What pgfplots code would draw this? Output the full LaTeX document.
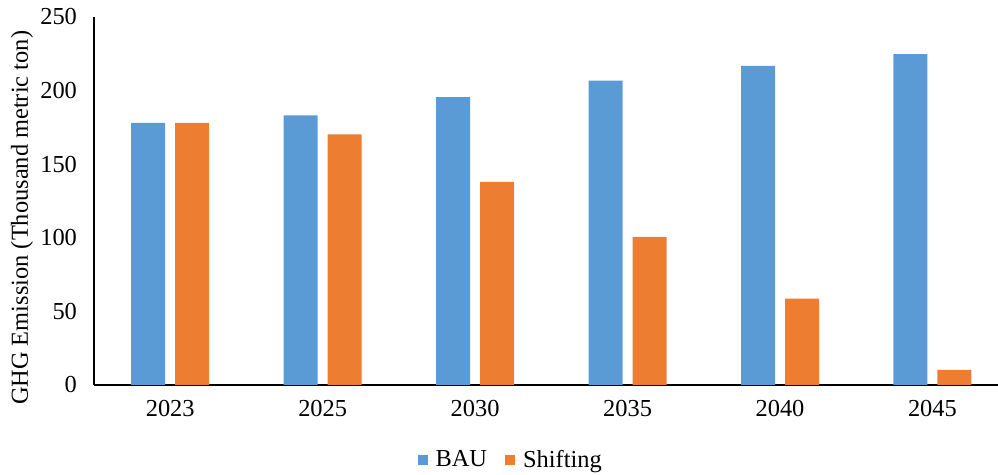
\documentclass[border=0pt]{standalone}
\usepackage{pgfplots}
\pgfplotsset{compat=1.18}
\usepackage{fontspec}
\setmainfont{Liberation Serif}

\definecolor{baublue}{HTML}{5B9BD5}
\definecolor{shiftorange}{HTML}{ED7D31}

\pgfplotstableread{
idx  year  bau    shifting
0    2023  178.0  178.0
1    2025  183.2  170.2
2    2030  195.6  138.0
3    2035  206.7  100.7
4    2040  216.8   58.6
5    2045  224.7   10.2
}\emissions

\begin{document}
\begin{tikzpicture}
\useasboundingbox (0,0) rectangle (499pt,237.5pt);
\begin{axis}[
  at={(47pt,45pt)}, anchor=south west,
  width=452pt, height=184pt, scale only axis,
  font=\fontsize{12.2}{14}\selectfont,
  /pgf/number format/assume math mode=true,
  ybar, bar width=17pt,
  xmin=-0.5, xmax=5.43,
  ymin=0, ymax=250,
  ytick={0,50,...,250},
  xtick={0,...,5},
  xticklabels={2023,2025,2030,2035,2040,2045},
  major tick length=0pt,
  axis x line*=bottom, axis y line*=left,
  axis line style={-, black, line width=0.7pt},
  xticklabel style={yshift=-4pt},
  yticklabel style={xshift=-5pt},
  ylabel={GHG Emission (Thousand metric ton)},
  ylabel style={at={(axis description cs:-0.0796,0.454)}, anchor=center, rotate=0},
  legend style={at={(axis description cs:0.462,-0.204)}, anchor=center,
    draw=none, legend columns=2,
    /tikz/every even column/.append style={column sep=7pt}},
  legend image code/.code={\fill[#1] (0pt,-2.6pt) rectangle (5.2pt,2.6pt);
    \path (0pt,0pt) -- (7pt,0pt);},
]
\addplot[fill=baublue, draw=none, bar shift=-11pt] table[x=idx, y=bau] {\emissions};
\addplot[fill=shiftorange, draw=none, bar shift=11pt] table[x=idx, y=shifting] {\emissions};
\legend{BAU, Shifting}
\end{axis}
\end{tikzpicture}
\end{document}
